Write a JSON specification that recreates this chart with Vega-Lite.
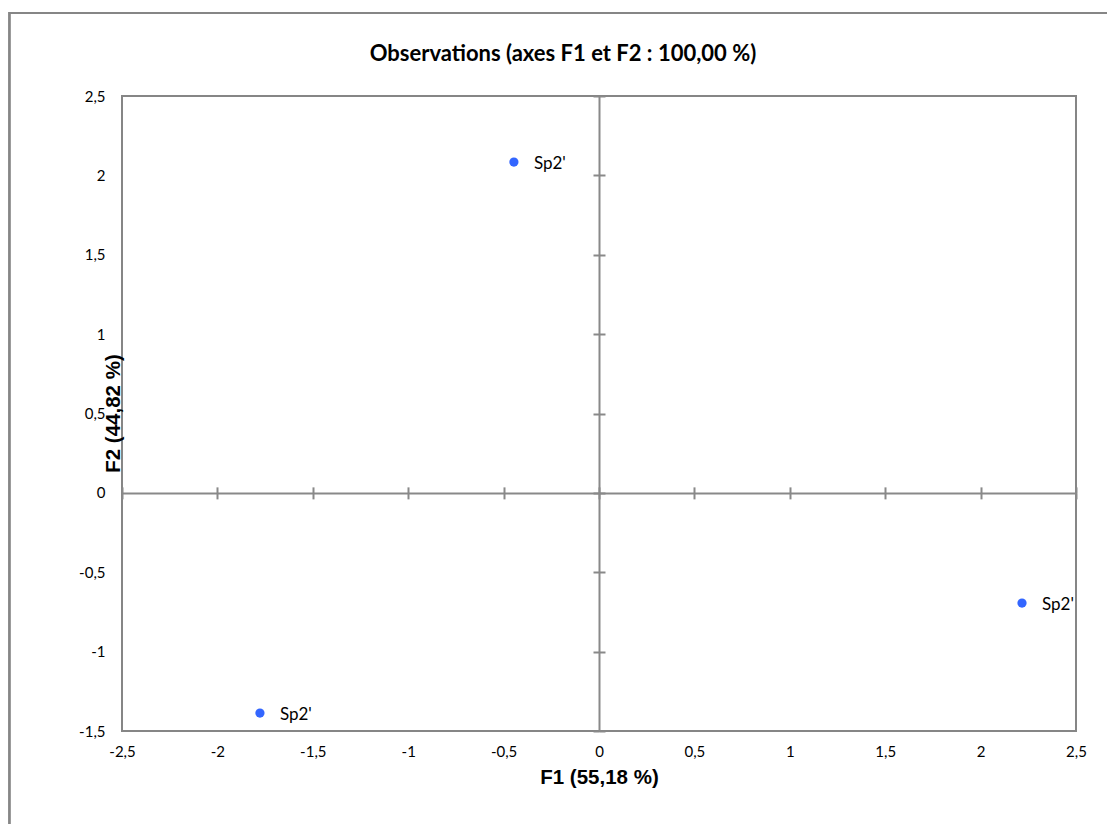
{
  "$schema": "https://vega.github.io/schema/vega-lite/v6.json",
  "width": 954,
  "height": 635,
  "autosize": "none",
  "padding": {"left": 122, "top": 96, "right": 31, "bottom": 93},
  "background": "white",
  "title": {
    "text": "Observations (axes F1 et F2 : 100,00 %)",
    "font": "Lato",
    "fontSize": 22,
    "fontWeight": "bold",
    "color": "#000000",
    "anchor": "middle",
    "frame": "group",
    "baseline": "alphabetic",
    "offset": -71,
    "dx": -36
  },
  "config": {
    "view": {"stroke": "#868686", "strokeWidth": 2},
    "axis": {"grid": false}
  },
  "data": {
    "values": [
      {"F1": -0.446, "F2": 2.084, "label": "Sp2'"},
      {"F1": 2.217, "F2": -0.694, "label": "Sp2'"},
      {"F1": -1.777, "F2": -1.387, "label": "Sp2'"}
    ]
  },
  "resolve": {"axis": {"x": "independent", "y": "independent"}},
  "layer": [
    {
      "mark": {"type": "rect", "fill": null, "fillOpacity": 0, "stroke": "#868686", "strokeWidth": 2, "clip": false},
      "encoding": {
        "x": {"datum": -3.09, "type": "quantitative", "axis": null},
        "x2": {"datum": 2.75},
        "y": {"datum": 3.023, "type": "quantitative", "axis": null},
        "y2": {"datum": -2.2}
      }
    },
    {
      "mark": {"type": "point", "filled": true, "size": 85, "color": "#3366FF", "opacity": 1},
      "encoding": {
        "x": {
          "field": "F1", "type": "quantitative",
          "scale": {"domain": [-2.5, 2.5], "nice": false, "zero": false},
          "axis": {
            "orient": "bottom", "values": [-2.5, -2, -1.5, -1, -0.5, 0, 0.5, 1, 1.5, 2, 2.5],
            "domain": false, "ticks": false, "labelPadding": 13,
            "labelExpr": "replace(toString(datum.value), '.', ',')",
            "labelFont": "Lato", "labelFontSize": 15, "labelColor": "#000000",
            "labelFlush": false, "labelOverlap": false,
            "title": "F1 (55,18 %)", "titleFont": "Liberation Sans", "titleFontSize": 20.5,
            "titleFontWeight": "bold", "titleColor": "#000000",
            "titleX": 477, "titleY": 46, "titleBaseline": "middle", "titleAlign": "center"
          }
        },
        "y": {
          "field": "F2", "type": "quantitative",
          "scale": {"domain": [-1.5, 2.5], "nice": false, "zero": false},
          "axis": {
            "orient": "left", "values": [-1.5, -1, -0.5, 0, 0.5, 1, 1.5, 2, 2.5],
            "domain": false, "ticks": false, "labelPadding": 17,
            "labelExpr": "replace(toString(datum.value), '.', ',')",
            "labelFont": "Lato", "labelFontSize": 15, "labelColor": "#000000",
            "labelFlush": false, "labelOverlap": false,
            "title": "F2 (44,82 %)", "titleFont": "Liberation Sans", "titleFontSize": 20.5,
            "titleFontWeight": "bold", "titleColor": "#000000",
            "titleAngle": -90, "titleX": -9, "titleY": 317, "titleBaseline": "middle", "titleAlign": "center"
          }
        }
      }
    },
    {
      "mark": {"type": "text", "align": "left", "baseline": "middle", "dx": 20, "dy": 2, "font": "Lato", "fontSize": 17, "color": "#000000"},
      "encoding": {
        "x": {
          "field": "F1", "type": "quantitative",
          "axis": {
            "orient": "bottom", "offset": -238.125, "values": [-2.5, -2, -1.5, -1, -0.5, 0, 0.5, 1, 1.5, 2, 2.5],
            "labels": false, "title": null, "domain": true, "domainColor": "#898989", "domainWidth": 2,
            "ticks": true, "tickSize": 6, "tickColor": "#898989", "tickWidth": 2
          }
        },
        "y": {
          "field": "F2", "type": "quantitative",
          "axis": {
            "orient": "left", "offset": -477, "values": [-1.5, -1, -0.5, 0, 0.5, 1, 1.5, 2, 2.5],
            "labels": false, "title": null, "domain": true, "domainColor": "#898989", "domainWidth": 2,
            "ticks": true, "tickSize": 6, "tickColor": "#898989", "tickWidth": 2
          }
        },
        "text": {"field": "label"}
      }
    },
    {
      "mark": {"type": "point", "opacity": 0},
      "encoding": {
        "x": {
          "field": "F1", "type": "quantitative",
          "axis": {
            "orient": "top", "offset": -396.875, "values": [-2.5, -2, -1.5, -1, -0.5, 0, 0.5, 1, 1.5, 2, 2.5],
            "labels": false, "title": null, "domain": false,
            "ticks": true, "tickSize": 6, "tickColor": "#898989", "tickWidth": 2
          }
        },
        "y": {
          "field": "F2", "type": "quantitative",
          "axis": {
            "orient": "right", "offset": -477, "values": [-1.5, -1, -0.5, 0, 0.5, 1, 1.5, 2, 2.5],
            "labels": false, "title": null, "domain": false,
            "ticks": true, "tickSize": 6, "tickColor": "#898989", "tickWidth": 2
          }
        }
      }
    }
  ]
}
